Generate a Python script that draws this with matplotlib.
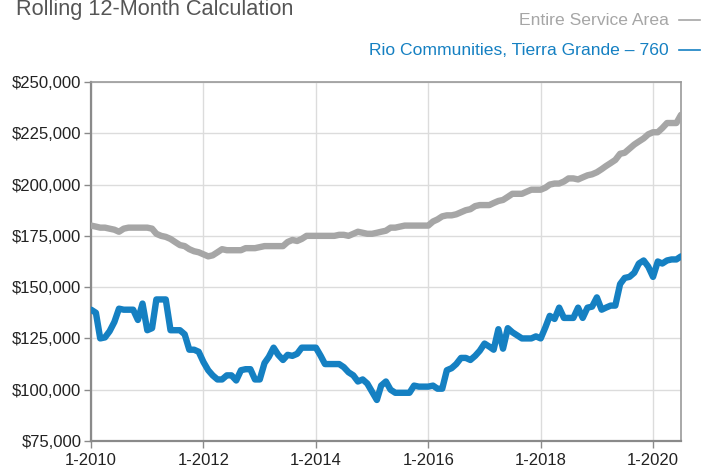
import matplotlib
matplotlib.use("Agg")
import matplotlib.pyplot as plt
import matplotlib.dates as mdates
import matplotlib.ticker as mticker
import pandas as pd

# monthly rolling 12-month values, 1-2010 .. 7-2020 (in $1000s)
months = pd.date_range("2010-01-01", "2020-07-01", freq="MS")

service_area = [
    180, 179.5, 179, 179, 178.5, 178, 177, 178.5, 179, 179, 179, 179,
    179, 178.5, 176, 175, 174.5, 173.5, 172, 170.5, 170, 168.5, 167.5, 167,
    166, 165, 165.5, 167, 168.5, 168, 168, 168, 168, 169, 169, 169,
    169.5, 170, 170, 170, 170, 170, 172, 173, 172.5, 173.5, 175, 175,
    175, 175, 175, 175, 175, 175.5, 175.5, 175, 176, 177, 176.5, 176,
    176, 176.5, 177, 177.5, 179, 179, 179.5, 180, 180, 180, 180, 180,
    180, 182, 183, 184.5, 185, 185, 185.5, 186.5, 187.5, 188, 189.5, 190,
    190, 190, 191, 192, 192.5, 194, 195.5, 195.5, 195.5, 196.5, 197.5, 197.5,
    197.5, 198.5, 200, 200.5, 200.5, 201.5, 203, 203, 202.5, 203.5, 204.5, 205,
    206, 207.5, 209, 210.5, 212, 215, 215.5, 217.5, 219.5, 221, 222.5, 224.5,
    225.5, 225.5, 227.5, 230, 230, 230, 234,
]

rio_communities = [
    139, 137.5, 125, 125.5, 128.5, 133, 139.5, 139, 139, 139, 134, 142,
    129, 130, 144, 144, 144, 129, 129, 129, 127, 119.5, 119.5, 118.5,
    113.5, 109.5, 107, 105, 105, 107, 107, 104.5, 109.5, 110, 110, 105,
    105, 113, 116, 120.5, 117, 114.5, 117, 116.5, 117.5, 120.5, 120.5, 120.5,
    120.5, 116.5, 112.5, 112.5, 112.5, 112.5, 111, 108.5, 107, 104, 105, 103,
    99, 95, 102, 104, 100, 98.5, 98.5, 98.5, 98.5, 102, 101.5, 101.5,
    101.5, 102, 100.5, 100.5, 109.5, 110.5, 112.5, 115.5, 115.5, 114.5, 116.5, 119,
    122.5, 121, 119.5, 129.5, 120, 130, 128, 126.5, 125, 125, 125, 126,
    125, 130.5, 136, 134.5, 140, 135, 135, 135, 140, 135, 140, 140.5,
    145, 139, 140, 141, 141, 151.5, 154.5, 155, 157, 161.5, 163, 160,
    155, 162.5, 161.5, 163, 163.5, 163.5, 165,
]

series_names = ["Entire Service Area", "Rio Communities, Tierra Grande \u2013 760"]
colors = ["#a6a6a6", "#1580c2"]

plt.rcParams["font.family"] = ["Liberation Sans", "DejaVu Sans"]

fig = plt.figure(figsize=(7.01, 4.68), dpi=100)
ax = fig.add_axes([0.130, 0.0577, 0.8415, 0.7671])

ax.plot(months, [v * 1000 for v in service_area], color=colors[0], lw=4.6,
        solid_joinstyle="round", solid_capstyle="round", zorder=3)
ax.plot(months, [v * 1000 for v in rio_communities], color=colors[1], lw=4.6,
        solid_joinstyle="round", solid_capstyle="round", zorder=4)

ax.set_xlim(pd.Timestamp("2010-01-01"), pd.Timestamp("2020-07-01"))
ax.set_ylim(75000, 250000)
ax.set_yticks(range(75000, 250001, 25000))
ax.yaxis.set_major_formatter(mticker.FuncFormatter(lambda v, p: f"${int(v):,}"))
ax.set_xticks([pd.Timestamp(f"{y}-01-01") for y in range(2010, 2021, 2)])
ax.xaxis.set_major_formatter(mdates.DateFormatter("1-%Y"))

ax.grid(True, color="#dcdcdc", lw=1)
ax.set_axisbelow(True)
for side in ["left", "bottom"]:
    ax.spines[side].set_color("#8a8a8a")
    ax.spines[side].set_linewidth(1.6)
for side in ["top", "right"]:
    ax.spines[side].set_color("#9a9a9a")
    ax.spines[side].set_linewidth(1.2)
ax.tick_params(axis="both", length=5, width=1, color="#8a8a8a",
               labelsize=12, labelcolor="#222222", pad=2)
ax.tick_params(axis="x", pad=4)

# title sits partly above the top edge, as in the source
fig.text(0.023, 0.968, "Rolling 12-Month Calculation", fontsize=15.7,
         color="#555555", ha="left", va="baseline")
fig.text(0.954, 0.957, series_names[0], fontsize=12.6, color=colors[0],
         ha="right", va="center")
fig.text(0.954, 0.893, series_names[1], fontsize=12.6, color=colors[1],
         ha="right", va="center")
for yy, c in zip([0.957, 0.893], colors):
    fig.add_artist(plt.Line2D([0.969, 0.998], [yy, yy], color=c, lw=1.2,
                              transform=fig.transFigure))

fig.savefig("out.png", dpi=100)
